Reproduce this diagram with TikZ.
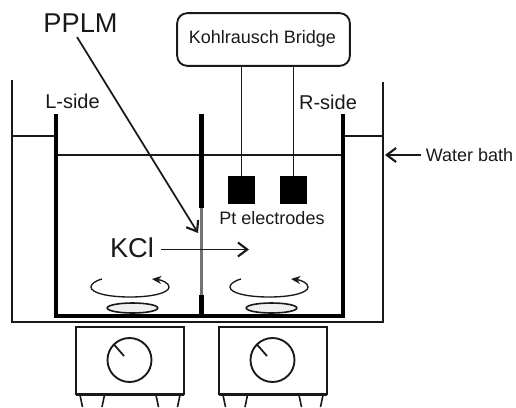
\documentclass[tikz,border=0pt]{standalone}
\usepackage{fontspec}
\setmainfont{Liberation Sans}
\usetikzlibrary{arrows.meta,calc,shapes.geometric}
\definecolor{ink}{gray}{0.1}
\tikzset{
  x=0.75pt,y=-0.75pt,
  every node/.style={text=ink,inner sep=0pt,outer sep=0pt,anchor=center},
  thinwall/.style={draw=ink,line width=1.3pt,line join=miter},
  thickwall/.style={draw=black,line width=3.2pt,line cap=butt,line join=miter},
  waterline/.style={draw=ink,line width=1.3pt},
  wire/.style={draw=ink,line width=1.2pt},
  membraneline/.style={draw=black!55,line width=1.6pt},
  openarrow/.style={draw=ink,line width=1.3pt,-{Straight Barb[length=7pt,width=10.5pt,line width=1.6pt]}},
  spin/.style={draw=ink,line width=1pt,-{Stealth[length=7pt,width=6pt]}},
  stirbar/.style={ellipse,draw=ink,fill=black!6,line width=1.2pt},
  plate/.style={draw=ink,line width=1.3pt,fill=white},
  dial/.style={circle,draw=ink,line width=1.4pt,minimum size=33pt},
  electrode/.style={fill=black,draw=none,minimum size=20.5pt},
  foot/.style={draw=ink,line width=1.2pt},
  big/.style={font=\fontsize{20.4}{21}\selectfont},
  mid/.style={font=\fontsize{15}{16}\selectfont},
  small/.style={font=\fontsize{13.5}{14}\selectfont},
}
\begin{document}
\begin{tikzpicture}
\useasboundingbox (0,0) rectangle (516,407);
% water bath
\draw[thinwall] (12,80) -- (12,322) -- (383,322) -- (383,82);
\draw[waterline] (12,136) -- (56,136);
\draw[waterline] (343,136) -- (383,136);
\draw[waterline] (56,155) -- (343,155);
% inner cell
\draw[thickwall] (56,114) -- (56,316) -- (343,316) -- (343,114);
\draw[thickwall] (201.5,114) -- (201.5,208);
\draw[thickwall] (201.5,295) -- (201.5,316);
\draw[membraneline] (201.5,208) -- (201.5,295);
% bridge and electrodes
\node[draw=ink,line width=1.4pt,rounded corners=7.5pt,minimum width=129.5pt,minimum height=39.5pt] (bridge) at (263.5,39.5) {};
\node[small] (bridgetext) at (262.5,39) {Kohlrausch Bridge};
\node[electrode] (e1) at (241.5,190) {};
\node[electrode] (e2) at (293.5,190) {};
\draw[wire] (e1.north |- bridge.south) -- (e1.north);
\draw[wire] (e2.north |- bridge.south) -- (e2.north);
\node[small] (pt) at (272,218) {Pt electrodes};
% labels
\node[big] (pplm) at (80.5,23) {PPLM};
\node[mid] (lside) at (72.5,101) {L-side};
\node[mid] (rside) at (328,102) {R-side};
\node[big] (kcl) at (132,248) {KCl};
\node[small] (bath) at (469.5,155) {Water bath};
% arrows
\coordinate (membrane) at (198,233);
\coordinate (pplmstart) at (77,37);
\draw[openarrow] (pplmstart) -- (membrane);
\coordinate (kclstart) at (161,249.5);
\coordinate (kclend) at (249,249.5);
\draw[openarrow] (kclstart) -- (kclend);
\coordinate (bathstart) at (421,155);
\coordinate (bathwall) at (385,155);
\draw[openarrow] (bathstart) -- (bathwall);
% stirrers
\foreach \n/\d in {l/0,r/139}{
  \begin{scope}[xshift=\d*0.75pt]
  \draw[spin] (102,279) .. controls (95,281) and (91,284) .. (91,287) .. controls (91,293) and (108,297) .. (130,297) .. controls (152,297) and (169,293) .. (169,287) .. controls (169,283) and (162,280) .. (152,279);
  \node[stirbar,minimum width=38pt,minimum height=7.5pt] (bar\n) at (132.5,308) {};
  \end{scope}
}
% hot plates
\foreach \n/\d in {a/0,b/143}{
  \begin{scope}[xshift=\d*0.75pt]
  \draw[foot] (80,395) -- (82.5,407);
  \draw[foot] (104.5,395) -- (102,407);
  \draw[foot] (156,395) -- (158.5,407);
  \draw[foot] (180,395) -- (177.5,407);
  \node[plate,minimum width=80.5pt,minimum height=50.5pt] (plate\n) at (130,360.5) {};
  \draw[draw=ink,line width=2pt] (plate\n.south west) -- (plate\n.south east);
  \node[dial] (dial\n) at (129.5,360) {};
  \coordinate (hub\n) at (124,356);
  \draw[draw=ink,line width=1.3pt] (dial\n.135) -- (hub\n);
  \end{scope}
}
\end{tikzpicture}
\end{document}
